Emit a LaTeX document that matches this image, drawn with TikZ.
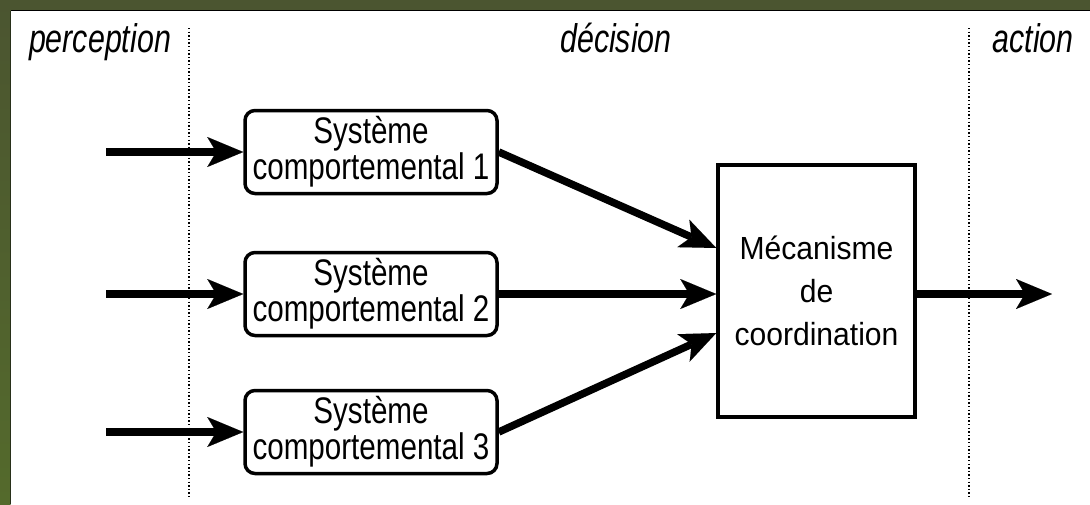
\documentclass[tikz,border=0pt]{standalone}
\usepackage{fontspec}
\setmainfont{Liberation Sans}
\newfontfamily\boxfont[FakeStretch=0.8]{Liberation Sans}
\newfontfamily\mecfont[FakeStretch=0.94]{Liberation Sans}
\newfontfamily\labfont[FakeStretch=0.76]{Liberation Sans}
\usetikzlibrary{arrows.meta}
\definecolor{frametop}{RGB}{75,85,48}
\definecolor{framebot}{RGB}{84,106,44}
\definecolor{frameedge}{RGB}{40,48,26}
\tikzset{
  sysbox/.style={draw, line width=3.5pt, rounded corners=10pt, fill=white,
    minimum width=252pt, minimum height=83pt, inner sep=0pt, align=center,
    font=\boxfont\fontsize{37}{36}\selectfont},
  mecbox/.style={draw, line width=3.5pt, fill=white,
    minimum width=197pt, minimum height=252pt, inner sep=0pt, align=center,
    font=\mecfont\fontsize{32}{43}\selectfont},
  phase/.style={anchor=base, inner sep=0pt,
    font=\labfont\itshape\fontsize{40}{40}\selectfont},
  flow/.style={line width=7.5pt,
    -{Stealth[length=36pt,width=30pt,inset=9pt,line width=0.01pt]}},
  zoneline/.style={line width=1.4pt, dash pattern=on 1.4pt off 2.2pt}
}
\begin{document}
\begin{tikzpicture}[x=1pt,y=-1pt]
\useasboundingbox (0,0) rectangle (1090,504);
% page and its olive frame on the top and left sides
\fill[white] (0,0) rectangle (1090,504);
\shade[top color=frametop, bottom color=framebot] (0,0) rectangle (10.5,504);
\fill[frametop] (0,0) rectangle (1090,9.5);
\fill[black] (10.5,9.5) rectangle (1090,10.5);
\fill[frameedge] (9.8,10.5) rectangle (10.8,504);

% zone separators
\draw[zoneline] (189,28) -- (189,497);
\draw[zoneline] (969,28) -- (969,497);

% zone titles
\node[phase] (tperc) at (100,52) {perception};
\node[phase] (tdec) at (616,52) {décision};
\node[phase] (tact) at (1033,52) {action};

% behavioural systems
\node[sysbox] (b1) at (371,152) {Système\\comportemental 1};
\node[sysbox] (b2) at (371,294) {Système\\comportemental 2};
\node[sysbox] (b3) at (371,432) {Système\\comportemental 3};

% coordination mechanism
\node[mecbox] (mec) at (816.5,291) {Mécanisme\\de\\coordination};

% free ends of the input and output arrows
\coordinate (in1) at (106,152);
\coordinate (in2) at (106,294);
\coordinate (in3) at (106,432);
\coordinate (out) at (1052,294);

% perception inputs
\draw[flow] (in1) -- (b1.west);
\draw[flow] (in2) -- (b2.west);
\draw[flow] (in3) -- (b3.west);

% systems into the coordination mechanism
\draw[flow] (b1.east) -- ([yshift=43pt]mec.west);
\draw[flow] (b2.east) -- (mec.west |- b2.east);
\draw[flow] (b3.east) -- ([yshift=-42pt]mec.west);

% resulting action
\draw[flow] (mec.east |- out) -- (out);
\end{tikzpicture}
\end{document}
